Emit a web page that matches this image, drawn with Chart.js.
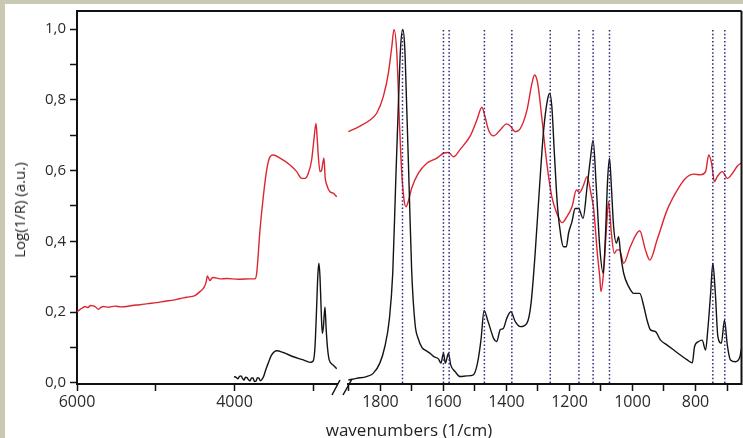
<!DOCTYPE html>
<html>
<head>
<meta charset="utf-8">
<title>Log(1/R) spectra</title>
<script src="https://cdn.jsdelivr.net/npm/chart.js@4.4.1/dist/chart.umd.min.js"></script>
<style>
    html, body { margin: 0; padding: 0; background: #c9c9b3; width: 743px; height: 438px; overflow: hidden; }
    #panel { position: absolute; left: 5px; top: 4px; width: 738px; height: 434px; background: #fff; }
    .box { position: absolute; left: 0; top: 4px; width: 743px; height: 434px; }
    .ttl { position: absolute; font-family: 'Open Sans', sans-serif; color: #222; white-space: nowrap; }
    #yTitle { left: 19px; top: 210px; font-size: 15px; transform: translate(-50%, -50%) rotate(-90deg); }
    #xTitle { left: 409px; top: 429px; font-size: 17px; transform: translate(-50%, -50%); }
</style>
</head>
<body>
<div id="panel"></div>
<div class="box"><canvas id="leftChart"></canvas></div>
<div class="box"><canvas id="rightChart"></canvas></div>
<div class="ttl" id="yTitle">Log(1/R) (a.u.)</div>
<div class="ttl" id="xTitle">wavenumbers (1/cm)</div>
<script>
// Eixo quebrado: 6000-2700 à esquerda, 1900-654 à direita

// ticks
const yTicks = [0, 0.1, 0.2, 0.3, 0.4, 0.5, 0.6, 0.7, 0.8, 0.9, 1.0];
const xTicksLeft = [6000, 5000, 4000, 3000];
const xTicksRight = [1900, 1800, 1700, 1600, 1500, 1400, 1300, 1200, 1100, 1000, 900, 800, 700];

// linhas pontilhadas (bandas)
const bandLines = [1730, 1600, 1582, 1470, 1383, 1261, 1170, 1125, 1073, 745, 707];

// espectro vermelho - região esquerda
const redLeftW = [6000, 5960, 5930, 5898, 5860, 5830, 5793, 5760, 5730, 5700, 5666, 5600, 5520, 5440, 5369, 5300, 5200, 5100, 4988, 4880, 4777, 4700, 4607, 4502, 4438, 4387, 4360, 4345, 4311, 4290, 4269, 4180, 4099, 3950, 3803, 3740, 3718, 3676, 3634, 3591, 3549, 3507, 3422, 3295, 3210, 3147, 3105, 3063, 3020, 2990, 2965, 2952, 2935, 2914, 2895, 2864, 2848, 2829, 2787, 2745, 2702];
const redLeftY = [0.201, 0.208, 0.212, 0.216, 0.213, 0.219, 0.218, 0.214, 0.208, 0.213, 0.216, 0.214, 0.217, 0.215, 0.216, 0.219, 0.221, 0.224, 0.227, 0.231, 0.234, 0.238, 0.242, 0.247, 0.258, 0.270, 0.285, 0.302, 0.289, 0.296, 0.298, 0.294, 0.295, 0.293, 0.294, 0.294, 0.310, 0.432, 0.526, 0.602, 0.639, 0.644, 0.635, 0.616, 0.597, 0.578, 0.578, 0.592, 0.630, 0.690, 0.733, 0.700, 0.640, 0.597, 0.600, 0.636, 0.580, 0.560, 0.540, 0.536, 0.526];

// espectro preto - região esquerda
const blackLeftW = [4006, 3980, 3956, 3935, 3917, 3898, 3879, 3860, 3841, 3822, 3803, 3784, 3765, 3746, 3727, 3708, 3689, 3670, 3651, 3630, 3613, 3590, 3571, 3528, 3464, 3380, 3253, 3126, 3041, 3000, 2978, 2959, 2940, 2927, 2914, 2898, 2885, 2870, 2851, 2835, 2819, 2797, 2745, 2702];
const blackLeftY = [0.018, 0.016, 0.012, 0.019, 0.020, 0.013, 0.008, 0.016, 0.015, 0.009, 0.006, 0.014, 0.014, 0.004, 0.005, 0.015, 0.013, 0.006, 0.010, 0.018, 0.030, 0.045, 0.056, 0.079, 0.091, 0.086, 0.074, 0.065, 0.058, 0.062, 0.100, 0.200, 0.310, 0.338, 0.300, 0.200, 0.140, 0.160, 0.215, 0.150, 0.100, 0.065, 0.050, 0.040];

// espectro vermelho - região direita
const redRightW = [1902, 1865, 1833, 1812, 1791, 1775, 1764, 1757, 1748, 1740, 1733, 1725, 1719, 1712, 1701, 1680, 1653, 1621, 1600, 1584, 1568, 1547, 1515, 1494, 1478, 1468, 1457, 1441, 1420, 1399, 1388, 1372, 1356, 1335, 1319, 1311, 1301, 1287, 1272, 1256, 1240, 1224, 1208, 1192, 1178, 1168, 1157, 1144, 1132, 1123, 1112, 1104, 1100, 1092, 1081, 1076, 1067, 1058, 1049, 1041, 1028, 1007, 977, 959, 945, 922, 890, 858, 832, 805, 784, 768, 758, 749, 740, 731, 715, 699, 683, 667, 654];
const redRightY = [0.710, 0.726, 0.743, 0.762, 0.809, 0.875, 0.950, 0.999, 0.931, 0.743, 0.602, 0.517, 0.498, 0.512, 0.550, 0.592, 0.621, 0.635, 0.649, 0.651, 0.639, 0.660, 0.698, 0.743, 0.779, 0.752, 0.715, 0.698, 0.715, 0.732, 0.726, 0.710, 0.719, 0.771, 0.847, 0.870, 0.847, 0.743, 0.621, 0.526, 0.479, 0.453, 0.470, 0.498, 0.545, 0.538, 0.555, 0.583, 0.536, 0.490, 0.370, 0.300, 0.258, 0.310, 0.460, 0.512, 0.423, 0.366, 0.376, 0.376, 0.338, 0.385, 0.430, 0.376, 0.347, 0.404, 0.489, 0.545, 0.578, 0.590, 0.588, 0.597, 0.644, 0.621, 0.569, 0.583, 0.597, 0.578, 0.592, 0.613, 0.622];

// espectro preto - região direita
const blackRightW = [1902, 1876, 1844, 1823, 1802, 1786, 1772, 1761, 1752, 1743, 1736, 1729, 1723, 1717, 1709, 1701, 1690, 1680, 1668, 1653, 1640, 1632, 1616, 1608, 1600, 1594, 1584, 1577, 1563, 1547, 1526, 1505, 1492, 1481, 1471, 1460, 1450, 1441, 1431, 1420, 1410, 1399, 1386, 1372, 1356, 1335, 1322, 1309, 1295, 1282, 1270, 1263, 1256, 1248, 1238, 1227, 1219, 1210, 1203, 1192, 1182, 1171, 1157, 1144, 1134, 1125, 1115, 1104, 1093, 1086, 1079, 1073, 1067, 1060, 1051, 1044, 1038, 1028, 1012, 996, 977, 964, 954, 943, 927, 911, 890, 869, 848, 826, 810, 803, 790, 779, 768, 761, 752, 745, 737, 729, 718, 708, 699, 689, 673, 659, 654];
const blackRightY = [0.008, 0.013, 0.018, 0.027, 0.056, 0.103, 0.178, 0.310, 0.555, 0.790, 0.950, 0.999, 0.950, 0.790, 0.555, 0.319, 0.165, 0.125, 0.100, 0.090, 0.082, 0.075, 0.068, 0.056, 0.084, 0.056, 0.084, 0.051, 0.032, 0.018, 0.020, 0.023, 0.056, 0.121, 0.205, 0.178, 0.150, 0.126, 0.117, 0.150, 0.154, 0.183, 0.201, 0.173, 0.159, 0.169, 0.225, 0.366, 0.555, 0.715, 0.799, 0.818, 0.781, 0.649, 0.498, 0.413, 0.385, 0.385, 0.423, 0.456, 0.493, 0.493, 0.465, 0.555, 0.630, 0.686, 0.555, 0.385, 0.310, 0.413, 0.573, 0.635, 0.555, 0.442, 0.395, 0.413, 0.366, 0.310, 0.272, 0.253, 0.253, 0.216, 0.178, 0.150, 0.145, 0.121, 0.107, 0.093, 0.079, 0.065, 0.057, 0.103, 0.117, 0.121, 0.093, 0.150, 0.253, 0.338, 0.253, 0.131, 0.112, 0.178, 0.107, 0.065, 0.060, 0.074, 0.098];

const RED = '#dc2530';
const BLACK = '#141414';
const DOTS = '#26267e';
const FONT = "'Open Sans', sans-serif";

const toXY = (ws, ys) => ws.map((w, i) => ({ x: w, y: ys[i] }));

const spectrum = (ws, ys, color, order) => ({
    data: toXY(ws, ys),
    borderColor: color,
    borderWidth: 1.4,
    pointRadius: 0,
    cubicInterpolationMode: 'monotone',
    order: order
});

const bandDatasets = () => bandLines.map(w => ({
    data: [{ x: w, y: 0 }, { x: w, y: 1.0 }],
    borderColor: DOTS,
    borderWidth: 1.5,
    borderDash: [1.5, 2.2],
    pointRadius: 0,
    order: 0
}));

// moldura (topo, direita) e marcas de quebra do eixo
const framePlugin = {
    id: 'frame',
    afterDraw(chart, args, opts) {
        const { ctx, chartArea: a } = chart;
        ctx.save();
        ctx.strokeStyle = '#111';
        ctx.lineWidth = 2;
        ctx.beginPath();
        ctx.moveTo(a.left - (opts.extendLeft || 0), a.top);
        ctx.lineTo(a.right, a.top);
        ctx.stroke();
        if (opts.right) {
            ctx.beginPath();
            ctx.moveTo(a.right, a.top);
            ctx.lineTo(a.right, a.bottom + 1);
            ctx.stroke();
        }
        if (opts.breakMarks) {
            ctx.lineWidth = 1.5;
            ctx.beginPath();
            ctx.moveTo(a.left - 16, a.bottom + 11);
            ctx.lineTo(a.left - 8, a.bottom - 4);
            ctx.moveTo(a.left - 5, a.bottom + 11);
            ctx.lineTo(a.left + 4, a.bottom - 5);
            ctx.stroke();
        }
        ctx.restore();
    }
};

const yScale = (show) => ({
    type: 'linear',
    min: -0.003,
    max: 1.051,
    display: show,
    afterBuildTicks: s => { s.ticks = yTicks.map(v => ({ value: v })); },
    afterFit: s => {
        s.width = show ? 77 : 0;
        s.paddingTop = 0;
        s.paddingBottom = 0;
    },
    border: { display: true, color: '#111', width: 2 },
    grid: { drawOnChartArea: false, tickLength: 7, tickColor: '#111', tickWidth: 1.5 },
    ticks: {
        autoSkip: false,
        padding: 4,
        color: '#2a2a2a',
        font: { family: FONT, size: 15 },
        callback: v => Math.round(v * 10) % 2 === 0 ? v.toFixed(1).replace('.', ',') : ''
    }
});

const xScale = (min, max, ticks, labelEvery) => ({
    type: 'linear',
    reverse: true,
    min: min,
    max: max,
    afterBuildTicks: s => { s.ticks = ticks.map(v => ({ value: v })); },
    afterFit: s => { s.height = 54; },
    border: { display: true, color: '#111', width: 2 },
    grid: { drawOnChartArea: false, tickLength: 7, tickColor: '#111', tickWidth: 1.5 },
    ticks: {
        autoSkip: false,
        maxRotation: 0,
        padding: 2,
        color: '#2a2a2a',
        font: { family: FONT, size: 16 },
        callback: v => v % labelEvery === 0 ? String(v) : ''
    }
});

const baseOptions = {
    responsive: true,
    maintainAspectRatio: false,
    animation: false,
    plugins: { legend: { display: false }, tooltip: { enabled: false } }
};

// segmento esquerdo: área do gráfico de 77 a 337
new Chart(document.getElementById('leftChart'), {
    type: 'line',
    data: {
        datasets: [
            spectrum(redLeftW, redLeftY, RED, 2),
            spectrum(blackLeftW, blackLeftY, BLACK, 1)
        ]
    },
    options: {
        ...baseOptions,
        layout: { padding: { top: 7, left: 0, right: 406, bottom: 0 } },
        plugins: { ...baseOptions.plugins, frame: {} },
        scales: {
            x: xScale(2698, 6000, xTicksLeft, 2000),
            y: yScale(true)
        }
    },
    plugins: [framePlugin]
});

// segmento direito: área do gráfico de 348 a 741.5
new Chart(document.getElementById('rightChart'), {
    type: 'line',
    data: {
        datasets: [
            spectrum(redRightW, redRightY, RED, 2),
            spectrum(blackRightW, blackRightY, BLACK, 1),
            ...bandDatasets()
        ]
    },
    options: {
        ...baseOptions,
        layout: { padding: { top: 7, left: 348, right: 1.5, bottom: 0 } },
        plugins: { ...baseOptions.plugins, frame: { extendLeft: 12, right: true, breakMarks: true } },
        scales: {
            x: xScale(654, 1903, xTicksRight, 200),
            y: yScale(false)
        }
    },
    plugins: [framePlugin]
});
</script>
</body>
</html>
